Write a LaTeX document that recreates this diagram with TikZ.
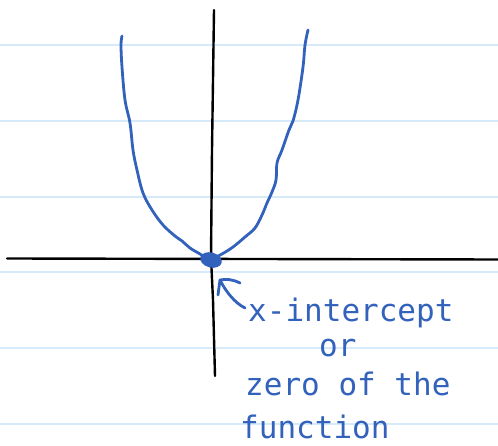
\documentclass[tikz,border=0pt]{standalone}
\usepackage{fontspec}
\usetikzlibrary{shapes.geometric}
\newfontfamily\handfont{DejaVu Sans Mono}
\definecolor{inkblue}{RGB}{50,98,188}
\definecolor{paperline}{RGB}{214,234,250}
\begin{document}
\begin{tikzpicture}[x=1pt,y=-1pt,
  ruling/.style={paperline,line width=1.4pt},
  axisline/.style={black,line width=2.4pt,line cap=round,line join=round},
  ink/.style={inkblue,line width=2.8pt,line cap=round,line join=round},
  hand/.style={inkblue,font=\handfont\fontsize{31}{36}\selectfont,inner sep=0pt,anchor=base west}]
\useasboundingbox (0,0) rectangle (498,446);
\fill[white] (0,0) rectangle (498,446);
% ruled lines
\foreach \yy in {45,121,197,272,348,424}
  \draw[ruling] (0,\yy) -- (498,\yy);
% axes
\coordinate (xl) at (7,258.5);
\coordinate (xr) at (498,259.5);
\coordinate (yt) at (214,10);
\coordinate (yb) at (215,376);
\draw[axisline] (xl) -- (xr);
\draw[axisline] (yt) -- (212,150) -- (211,258) -- (213,300) -- (yb);
% parabola
\draw[ink] plot[smooth,tension=0.6] coordinates {
 (122,36) (121,45) (122,67) (125,100) (130,123) (133,150) (137,170) (143,193)
 (152,210) (163,225) (175,236) (182,241) (190,248) (200,254) (208,259)};
\draw[ink] plot[smooth,tension=0.6] coordinates {
 (214,258) (222,254) (233,247) (245,237) (255,228) (262,215) (267,203) (272,192)
 (276,180) (277,163) (282,150) (289,130) (293,121) (298,100) (303,67) (305,45) (308,30)};
% zero point
\node[fill=inkblue,ellipse,minimum width=22pt,minimum height=15pt,inner sep=0pt,rotate=-15] (zero) at (211,260) {};
% annotation
\node[hand] (t1) at (248,322) {x-intercept};
\node[hand] (t2) at (319,356) {or};
\node[hand] (t3) at (245,395) {zero of the};
\node[hand] (t4) at (240,438) {function};
\coordinate (tip) at (220,280);
\coordinate (tail) at (245,308);
\draw[ink] (tail) .. controls (235,303) and (226,292) .. (tip);
\draw[ink] (240,283) .. controls (232,279) and (226,279) .. (tip) -- (218,295);
\end{tikzpicture}
\end{document}
